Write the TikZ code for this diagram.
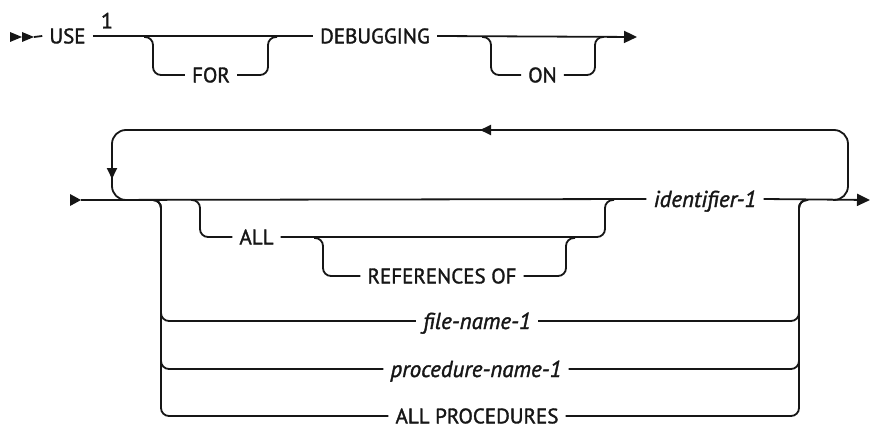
\documentclass[tikz,border=0pt]{standalone}
\usepackage{fontspec}
\setmainfont{PT Sans}
\newfontfamily\railfont{PT Sans}[FakeBold=1.5]
\newfontfamily\railitfont{PT Sans Italic}[FakeBold=1.5]
\usetikzlibrary{arrows.meta, positioning, calc}
\definecolor{railblack}{RGB}{22, 22, 22}
\tikzset{
  rail/.style={line width=1.8pt, railblack, rounded corners=8pt},
  loopline/.style={line width=1.8pt, railblack, rounded corners=14pt},
  kw/.style={font=\railfont\fontsize{21}{25}\selectfont, text=railblack, inner xsep=7pt, inner ysep=0pt, text height=14.7pt, text depth=0pt},
  var/.style={font=\railitfont\fontsize{23}{27}\selectfont, text=railblack, inner xsep=7pt, inner ysep=0pt, text height=16pt, text depth=0pt},
  bigtip/.style={-{Triangle[length=13pt, width=12pt]}},
  smalltip/.style={-{Triangle[length=11pt, width=10pt]}},
}

\begin{document}
\begin{tikzpicture}[x=1pt, y=-1pt]
  \useasboundingbox (0,0) rectangle (872,428);
  % first line
  \fill[railblack] (10,32) -- (22,37) -- (10,42) -- cycle;
  \fill[railblack] (22,32) -- (34,37) -- (22,42) -- cycle;
  \coordinate (top start) at (34,37);
  \coordinate (top end) at (637,37);
  \node[kw] (use) at (67.5,36) {USE};
  \node[kw, font=\railfont\fontsize{22}{26}\selectfont, text height=15pt] (note) at (107,21) {1};
  \node[kw] (debugging) at (375,36) {DEBUGGING};
  \node[kw] (for) at (211,75) {FOR};
  \node[kw] (on) at (542.5,75) {ON};
  \draw[rail] (top start) -- (use.west);
  \draw[rail] (use.east) -- (debugging.west);
  \draw[rail, bigtip] (debugging.east) -- (top end);
  \draw[rail] (144,37) -- (153,37) |- (for.west);
  \draw[rail] (for.east) -| (268,37) -- (277,37);
  \draw[rail] (482,37) -- (491,37) |- (on.west);
  \draw[rail] (on.east) -| (595,37) -- (604,37);

  % second line
  \fill[railblack] (70,194) -- (81,200) -- (70,206) -- cycle;
  \coordinate (main start) at (81,200);
  \coordinate (main end) at (870,200);
  \node[var] (ident) at (705,199) {identifier-1};
  \node[kw] (all) at (256.5,237) {ALL};
  \node[kw] (refs) at (442,276) {REFERENCES OF};
  \node[var] (file) at (477,321) {file-name-1};
  \node[var] (proc) at (476,369) {procedure-name-1};
  \node[kw] (allproc) at (477,416) {ALL PROCEDURES};
  \draw[rail] (main start) -- (ident.west);
  \draw[rail, bigtip] (ident.east) -- (main end);

  % repeat loop
  \draw[loopline, smalltip] (833,200) -- (848,200) -- (848,130) -- (480,130);
  \draw[loopline, smalltip] (491,130) -- (112,130) -- (112,179);
  \draw[loopline] (112,170) -- (112,200) -- (127,200);

  % choices
  \draw[rail] (152,200) -- (161,200) |- (file.west);
  \draw[rail] (152,200) -- (161,200) |- (proc.west);
  \draw[rail] (152,200) -- (161,200) |- (allproc.west);
  \draw[rail] (file.east) -| (799,200) -- (808,200);
  \draw[rail] (proc.east) -| (799,200) -- (808,200);
  \draw[rail] (allproc.east) -| (799,200) -- (808,200);
  \draw[rail] (191,200) -- (200,200) |- (all.west);
  \draw[rail] (all.east) -| (605,200) -- (614,200);
  \draw[rail] (314,238) -- (323,238) |- (refs.west);
  \draw[rail] (refs.east) -| (566,238) -- (575,238);
\end{tikzpicture}
\end{document}
